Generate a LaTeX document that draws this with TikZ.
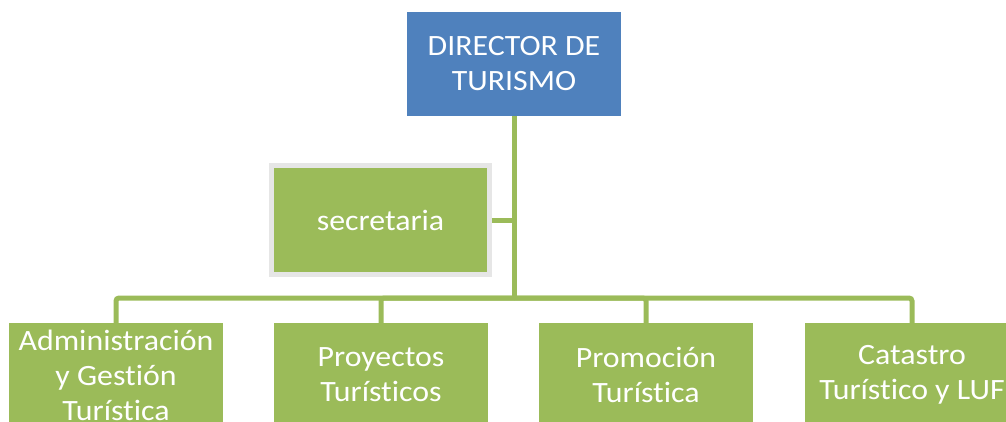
\documentclass[tikz,border=0pt]{standalone}
\usepackage{fontspec}
\setmainfont{Carlito}[FakeStretch=1.08, Ligatures=NoCommon]
\usetikzlibrary{positioning}
\definecolor{dirblue}{RGB}{79,129,189}
\definecolor{unitgreen}{RGB}{155,187,89}
\definecolor{edgegray}{RGB}{230,230,230}

\begin{document}
\begin{tikzpicture}[x=1pt, y=-1pt,
    unit/.style={fill=unitgreen, text=white, inner sep=0pt, align=center,
        minimum width=214pt, minimum height=104pt,
        font=\fontsize{29.5}{35}\selectfont},
    conn/.style={draw=unitgreen, line width=5pt, rounded corners=3pt}]
    \path[use as bounding box, clip] (0,0) rectangle (1006,421);

    % director and secretary
    \node[unit, fill=dirblue] (director) at (514,64) {DIRECTOR DE\\TURISMO};
    \node[unit, draw=edgegray, line width=4.5pt,
        minimum width=218pt, minimum height=109pt] (secre) at (380.5,220) {secretaria};

    % units
    \node[unit] (admin) at (116,375) {Administración\\y Gestión\\Turística};
    \node[unit] (proyectos) at (381,375) {Proyectos\\Turísticos};
    \node[unit] (promocion) at (646,375) {Promoción\\Turística};
    \node[unit] (catastro) at (912,375) {Catastro\\Turístico y LUF};

    % connectors
    \coordinate (split) at (514,298);
    \draw[conn] (director.south) -- (split);
    \draw[conn] (secre.east) -- (secre.east -| director.south);
    \foreach \n in {admin, proyectos, promocion, catastro} {
        \draw[conn] (split) -| (\n.north);
    }
\end{tikzpicture}
\end{document}
